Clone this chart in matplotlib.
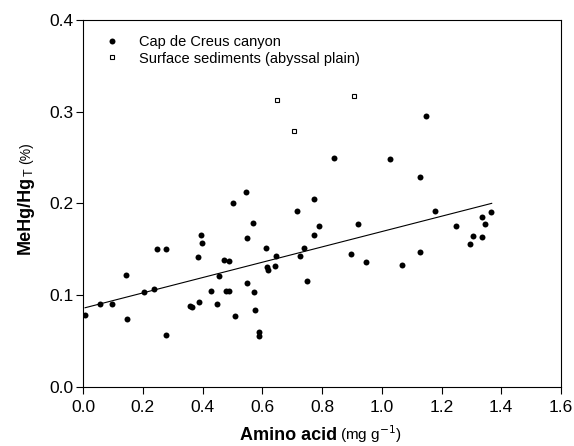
import matplotlib
matplotlib.use("Agg")
import matplotlib.pyplot as plt
import numpy as np

plt.rcParams['font.family'] = ['Liberation Sans', 'DejaVu Sans']

# Cap de Creus canyon samples
canyon_x = [0.007, 0.056, 0.098, 0.144, 0.146, 0.204, 0.239, 0.248, 0.278, 0.278,
            0.357, 0.364, 0.387, 0.386, 0.395, 0.398, 0.427, 0.447, 0.456, 0.471,
            0.488, 0.478, 0.488, 0.503, 0.508, 0.549, 0.549, 0.568, 0.573, 0.577,
            0.588, 0.590, 0.611, 0.615, 0.618, 0.642, 0.647, 0.717, 0.727, 0.740,
            0.751, 0.772, 0.790, 0.774, 0.546, 0.840, 1.027, 1.127, 1.147, 1.177,
            0.922, 1.247, 1.337, 1.367, 1.347, 1.306, 1.296, 1.337, 0.897, 0.947,
            1.068, 1.127]
canyon_y = [0.078, 0.091, 0.091, 0.122, 0.074, 0.103, 0.107, 0.150, 0.150, 0.057,
            0.088, 0.087, 0.093, 0.142, 0.166, 0.157, 0.105, 0.090, 0.121, 0.138,
            0.137, 0.105, 0.105, 0.200, 0.077, 0.162, 0.113, 0.179, 0.103, 0.084,
            0.060, 0.056, 0.152, 0.131, 0.128, 0.132, 0.143, 0.192, 0.143, 0.151,
            0.115, 0.166, 0.176, 0.205, 0.213, 0.250, 0.249, 0.229, 0.295, 0.192,
            0.178, 0.176, 0.185, 0.191, 0.178, 0.165, 0.156, 0.163, 0.145, 0.136,
            0.133, 0.147]

# Surface sediments (abyssal plain)
plain_x = [0.648, 0.707, 0.907]
plain_y = [0.3125, 0.279, 0.3175]

# Regression line (canyon)
fit_x = [0.007, 1.368]
fit_intercept = 0.0858
fit_slope = 0.0836

xticks = [0.0, 0.2, 0.4, 0.6, 0.8, 1.0, 1.2, 1.4, 1.6]
yticks = [0.0, 0.1, 0.2, 0.3, 0.4]

W, H = 574, 446
fig = plt.figure(figsize=(W / 100, H / 100), dpi=100)
L, R, T, B = 83, 561, 20, 387
ax = fig.add_axes([L / W, 1 - B / H, (R - L) / W, (B - T) / H])

fx = np.array(fit_x)
ax.plot(fx, fit_intercept + fit_slope * fx, color='black', lw=0.8, zorder=2)
ax.plot(canyon_x, canyon_y, 'o', color='black', ms=4.3, mec='black', mew=0,
        label='Cap de Creus canyon', zorder=3)
ax.plot(plain_x, plain_y, 's', mfc='white', mec='black', ms=3.3, mew=0.8,
        label='Surface sediments (abyssal plain)', zorder=3)

ax.set_xlim(0, 1.6)
ax.set_ylim(0, 0.4)
ax.set_xticks(xticks)
ax.set_yticks(yticks)
ax.set_xticklabels([f"{v:.1f}" for v in xticks])
ax.set_yticklabels([f"{v:.1f}" for v in yticks])
ax.tick_params(direction='out', length=5, width=0.8, labelsize=12.5, colors='black')
ax.tick_params(axis='x', pad=4)
ax.tick_params(axis='y', pad=2)
for s in ax.spines.values():
    s.set_linewidth(0.8)

leg = ax.legend(loc='upper left', frameon=False, fontsize=10.5, handletextpad=1.3,
                borderaxespad=0.3, labelspacing=0.2, handlelength=1.2,
                bbox_to_anchor=(0.02, 0.988))

def fx_(px):
    return px / W

def fy_(py):
    return 1 - py / H

# X label: bold part + unit
fig.text(fx_(337), fy_(440), 'Amino acid', fontsize=13, fontweight='bold',
         ha='right', va='baseline')
fig.text(fx_(340), fy_(440), r'(mg g$^{-1}$)', fontsize=11,
         ha='left', va='baseline')

# Y label: bold "MeHg/Hg", regular subscript "T", regular "(%)"
base_x = 30
fig.canvas.draw()
r = fig.canvas.get_renderer()
probe1 = fig.text(0, 0, 'MeHg/Hg', fontsize=13, fontweight='bold')
probe2 = fig.text(0, 0, 'T', fontsize=9)
probe3 = fig.text(0, 0, '(%)', fontsize=10)
w1 = probe1.get_window_extent(r).width
w2 = probe2.get_window_extent(r).width
w3 = probe3.get_window_extent(r).width
for p in (probe1, probe2, probe3):
    p.remove()
gap = 4
total = w1 + w2 + gap + w3
center_y = 198
y_start = center_y + total / 2  # pixel (from top) of label start (bottom)
fig.text(fx_(base_x), fy_(y_start), 'MeHg/Hg', fontsize=13, fontweight='bold',
         rotation=90, rotation_mode='anchor', ha='left', va='baseline')
fig.text(fx_(base_x + 3), fy_(y_start - w1), 'T', fontsize=9,
         rotation=90, rotation_mode='anchor', ha='left', va='baseline')
fig.text(fx_(base_x), fy_(y_start - w1 - w2 - gap), '(%)', fontsize=10,
         rotation=90, rotation_mode='anchor', ha='left', va='baseline')

fig.savefig('out.png', dpi=100)
